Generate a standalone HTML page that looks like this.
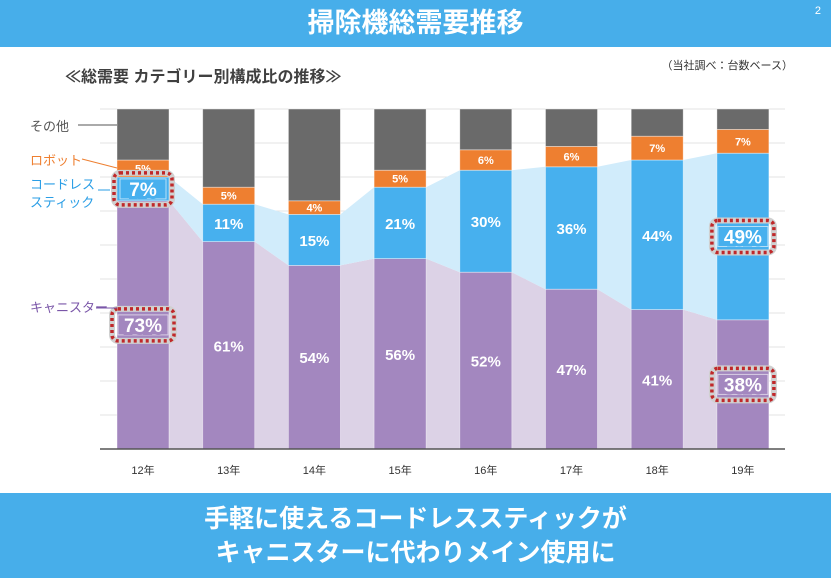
<!DOCTYPE html>
<html><head><meta charset="utf-8"><style>
body{margin:0;width:831px;height:578px;overflow:hidden;background:#fff;font-family:"Liberation Sans","Noto Sans CJK JP",sans-serif;}
.hdr{position:absolute;left:0;top:0;width:831px;height:47px;background:#47aeea;color:#fff;font-size:27px;font-weight:bold;text-align:center;line-height:46px;}
.pg{position:absolute;right:10px;top:4px;font-size:11px;color:#fff;font-weight:normal;line-height:14px}
.ftr{position:absolute;left:0;top:493px;width:831px;height:85px;background:#47aeea;color:#fff;font-size:25px;font-weight:bold;text-align:center;line-height:34px;padding-top:9px;box-sizing:border-box}
</style></head><body>
<div class="hdr">掃除機総需要推移<span class="pg">2</span></div>
<svg id="c" width="831" height="578" style="position:absolute;left:0;top:0"></svg>
<div class="ftr">手軽に使えるコードレススティックが<br>キャニスターに代わりメイン使用に</div>
<script>
const years=["12年","13年","14年","15年","16年","17年","18年","19年"];
const canister=[73,61,54,56,52,47,41,38];
const cordless=[7,11,15,21,30,36,44,49];
const robot=[5,5,4,5,6,6,7,7];
const yTicks=[0,10,20,30,40,50,60,70,80,90,100];
const NS="http://www.w3.org/2000/svg";
const svg=document.getElementById('c');
const y0=449,y1=109,bw=52;
const Y=v=>y0-(v/100)*(y0-y1);
const X=i=>143+i*85.7;
function el(t,a,p){const e=document.createElementNS(NS,t);for(const k in a)e.setAttribute(k,a[k]);(p||svg).appendChild(e);return e;}
function txt(x,y,s,a){const e=el('text',Object.assign({x:x,y:y},a));e.textContent=s;return e;}
// titles
let t=txt(65,82,"≪総需要 カテゴリー別構成比の推移≫",{"font-size":16,"font-weight":"bold",fill:"#404040"});


t=txt(793,69,"（当社調べ：台数ベース）",{"font-size":11,fill:"#333","text-anchor":"end"});


// grid
yTicks.forEach(v=>{if(v>0){const g=el('line',{x1:100,x2:785,y1:Y(v),y2:Y(v),stroke:"#e3e3e3","stroke-width":1});

}});
// shaded connector areas
let pp=[],bp=[];
years.forEach((_,i)=>{pp.push([X(i)-bw/2,Y(canister[i])],[X(i)+bw/2,Y(canister[i])]);bp.push([X(i)-bw/2,Y(canister[i]+cordless[i])],[X(i)+bw/2,Y(canister[i]+cordless[i])]);});
let pa=el('polygon',{points:pp.map(p=>p.join(',')).join(' ')+` ${X(7)+bw/2},${y0} ${X(0)-bw/2},${y0}`,fill:"#dcd2e6"});


let ba=el('polygon',{points:bp.map(p=>p.join(',')).join(' ')+' '+pp.slice().reverse().map(p=>p.join(',')).join(' '),fill:"#d1ecfb"});


// bars
years.forEach((yr,i)=>{
 const x=X(i)-bw/2;
 const segs=[["canister",0,canister[i],"#a387bf"],["cordless",canister[i],canister[i]+cordless[i],"#47b0ee"],["robot",canister[i]+cordless[i],canister[i]+cordless[i]+robot[i],"#ee7f30"],["other",canister[i]+cordless[i]+robot[i],100,"#6a6a6a"]];
 segs.forEach(s=>{
  const r=el('rect',{x:x,y:Y(s[2]),width:bw,height:Y(s[1])-Y(s[2]),fill:s[3],stroke:"#fff","stroke-width":0.8,"stroke-opacity":0.5});
  
  
 });
 let l=txt(X(i),Y(canister[i]/2)+6,canister[i]+"%",{"font-size":15,"font-weight":"bold",fill:"#fff","text-anchor":"middle"});
 
 
 l=txt(X(i),Y(canister[i]+cordless[i]/2)+6,cordless[i]+"%",{"font-size":15,"font-weight":"bold",fill:"#fff","text-anchor":"middle"});
 
 
 l=txt(X(i),Y(canister[i]+cordless[i]+robot[i]/2)+4,robot[i]+"%",{"font-size":11,"font-weight":"bold",fill:"#fff","text-anchor":"middle"});
 
 
 l=txt(X(i),474,yr,{"font-size":11,fill:"#333","text-anchor":"middle"});
 
 
});
let ax=el('line',{x1:100,x2:785,y1:y0,y2:y0,stroke:"#555","stroke-width":1.5});


// highlight boxes
function hl(i,v,base,big){
 const cy=Y(base+v/2);const w=big?62:58,h=32;
 const g=el('g',{});
 
 
 el('rect',{x:X(i)-w/2,y:cy-h/2,width:w,height:h,rx:6,fill:"none",stroke:"#d0d0d0","stroke-width":6},g);
 el('rect',{x:X(i)-w/2,y:cy-h/2,width:w,height:h,rx:6,fill:"none",stroke:"#c0282a","stroke-width":3.5,"stroke-dasharray":"3 3"},g);
 el('rect',{x:X(i)-w/2+6,y:cy-h/2+6,width:w-12,height:h-12,fill:"none",stroke:"#fff","stroke-width":1,opacity:0.6},g);
}
hl(0,cordless[0],canister[0],false);hl(0,canister[0],0,true);hl(7,cordless[7],canister[7],true);hl(7,canister[7],0,true);
// redraw highlighted labels bigger
[[0,cordless[0]+"%",Y(canister[0]+cordless[0]/2)],[0,canister[0]+"%",Y(canister[0]/2)],[7,cordless[7]+"%",Y(canister[7]+cordless[7]/2)],[7,canister[7]+"%",Y(canister[7]/2)]].forEach(a=>{
 const l=txt(X(a[0]),a[2]+7,a[1],{"font-size":19,"font-weight":"bold",fill:"#fff","text-anchor":"middle",stroke:a[2]>Y(canister[a[0]])?"#a387bf":"#47b0ee","stroke-width":6,"paint-order":"stroke"});
 
 
});
// legend annotations
function leg(name,lines,color,tx,ty,x1,y1,x2,y2){
 const g=el('g',{});
 
 
 lines.forEach((s,k)=>{const e=txt(tx,ty+k*18,s,{"font-size":13,fill:color});g.appendChild(e);});
 el('line',{x1:x1,y1:y1,x2:x2,y2:y2,stroke:color,"stroke-width":1},g);
}
leg('legend-other',["その他"],"#555",30,131,78,125,117,125);
leg('legend-robot',["ロボット"],"#ee7f30",30,165,82,159,117,168);
leg('legend-cordless',["コードレス","スティック"],"#2a9ee6",30,189,98,190,110,190);
leg('legend-canister',["キャニスター"],"#7a56a8",30,312,96,308,117,308);
</script>
</body></html>
